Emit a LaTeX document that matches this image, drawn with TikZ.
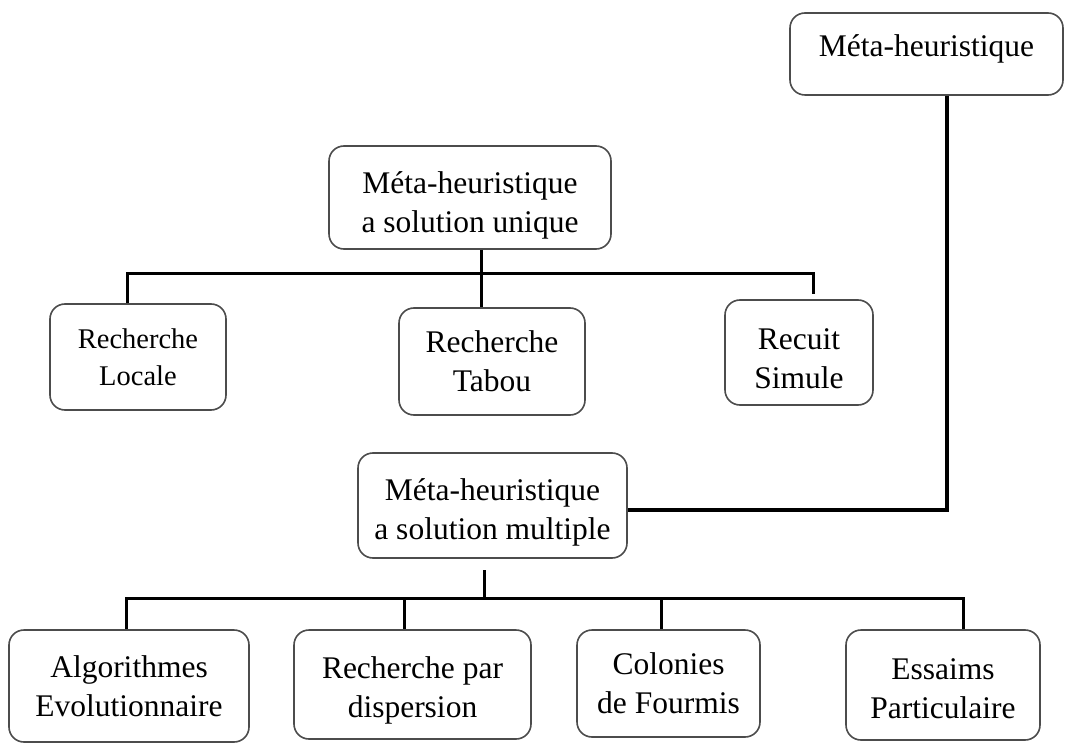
\documentclass[tikz,border=0pt]{standalone}
\usepackage{fontspec}
\setmainfont{Liberation Serif}
\begin{document}
\begin{tikzpicture}[x=1pt,y=-1pt,
  box/.style={draw=black!70, line width=1.6pt, rounded corners=15pt, fill=white,
    align=center, inner sep=0pt, font=\fontsize{31.5}{39}\selectfont},
  bus/.style={draw=black, line width=3pt},
  link/.style={draw=black, line width=4.5pt}]
\useasboundingbox[fill=white] (0,0) rectangle (1065,743);

% root and the two families
\node[box, minimum width=273pt, minimum height=82pt, text height=22pt, text depth=16pt]
  (root) at (926.5,54) {Méta-heuristique};
\node[box, minimum width=282pt, minimum height=103pt] (unique) at (470,197.5)
  {\rule{0pt}{38pt}Méta-heuristique\\a solution unique};
\node[box, minimum width=269pt, minimum height=105pt] (multi) at (492.5,505.5)
  {\rule{0pt}{35pt}Méta-heuristique\\a solution multiple};

% single-solution methods
\node[box, minimum width=176pt, minimum height=106pt, font=\fontsize{28.5}{37}\selectfont]
  (locale) at (138,357) {Recherche\\Locale};
\node[box, minimum width=186pt, minimum height=107pt] (tabou) at (492,361.5)
  {Recherche\\Tabou};
\node[box, minimum width=148pt, minimum height=105pt] (recuit) at (799,352.5)
  {\rule{0pt}{33pt}Recuit\\Simule};

% population-based methods
\node[box, minimum width=240pt, minimum height=112pt] (algo) at (129,686)
  {Algorithmes\\Evolutionnaire};
\node[box, minimum width=237pt, minimum height=109pt] (disp) at (412.5,684.5)
  {\rule{0pt}{34pt}Recherche par\\dispersion};
\node[box, minimum width=183pt, minimum height=107pt] (colon) at (668.5,683.5)
  {Colonies\\de Fourmis};
\node[box, minimum width=194pt, minimum height=110pt] (ess) at (943,685)
  {\rule{0pt}{29pt}Essaims\\Particulaire};

% bus under the single-solution family
\coordinate (ubr) at (813,274);
\coordinate (ubre) at (813,294);
\draw[bus] ([xshift=-11pt]tabou.north |- unique.south) -- ([xshift=-11pt]tabou.north);
\draw[bus] ([xshift=-11pt]locale.north) |- (ubr) -- (ubre);

% bus under the population-based family
\coordinate (mtop) at (484,570);
\coordinate (mbus) at (484,598);
\draw[bus] (mtop) -- (mbus);
\draw[bus] ([xshift=-3pt]algo.north) |- ([xshift=20pt]ess.north |- mbus) -- ([xshift=20pt]ess.north);
\draw[bus] ([xshift=-8.5pt]disp.north) -- ([xshift=-8.5pt]disp.north |- mbus);
\draw[bus] ([xshift=-7.5pt]colon.north) -- ([xshift=-7.5pt]colon.north |- mbus);

% root to the population-based family
\draw[link] ([xshift=20.5pt]root.south) |- ([yshift=-4.5pt]multi.east);
\end{tikzpicture}
\end{document}
